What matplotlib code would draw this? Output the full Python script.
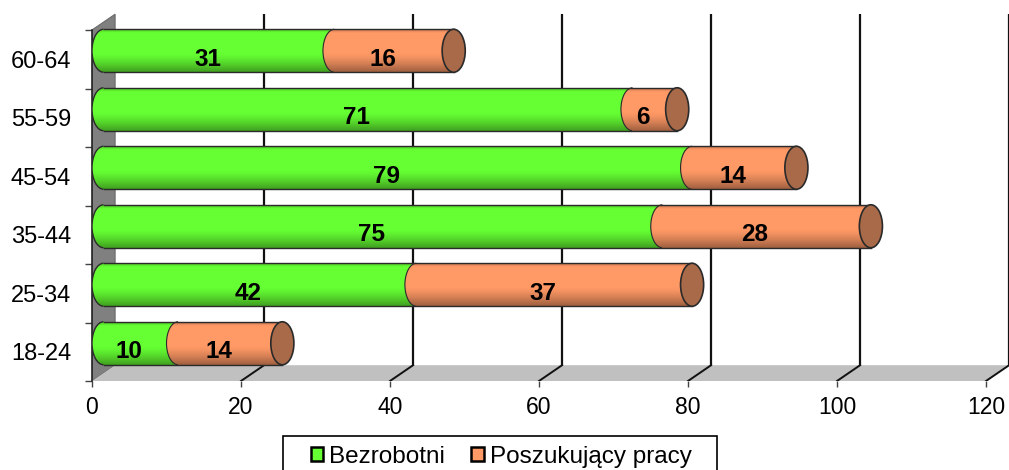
import numpy as np
import matplotlib.pyplot as plt
from matplotlib.patches import Rectangle, Ellipse, Polygon, Arc, Patch

plt.rcParams['font.family'] = ['Liberation Sans', 'DejaVu Sans']

# age groups, bottom to top
groups = ['18-24', '25-34', '35-44', '45-54', '55-59', '60-64']
bezrobotni = [10, 42, 75, 79, 71, 31]
poszukujacy = [14, 37, 28, 14, 6, 16]
x_ticks = [0, 20, 40, 60, 80, 100, 120]

GREEN = '#66FF33'
ORANGE = '#FF9966'
CAP = '#A86A48'
EDGE = '#2a2a2a'
FS = 16.5

# fake 3-D depth of the plot box, in data units
DX = 3.1     # x shift of the back wall
DY = 0.27    # y shift of the back wall
BAR_H = 0.735
CAP_W = 3.1  # width of the end ellipses

fig = plt.figure(figsize=(10.09, 4.70), dpi=100)
W, H = 1009.0, 470.0
x0_px, x120_px, floor_px, top_px = 92.0, 986.0, 381.0, 5.0
ppu_x = (x120_px - x0_px) / 120.0
ppu_y = 58.5
ax = fig.add_axes([x0_px / W, (H - floor_px) / H, (W - x0_px) / W, (floor_px - top_px) / H])
xmax = (W - x0_px) / ppu_x
ymax = -0.5 + (floor_px - top_px) / ppu_y

# back-wall height in data units
wall_top = 5.5 + DY

# shading overlay for the cylinders: dark rim on top, dark band at the bottom
t = np.linspace(0, 1, 64)
alpha = np.where(t < 0.08, 0.22 * (1 - t / 0.08), 0.0)
alpha = alpha + np.clip((t - 0.55) / 0.45, 0, 1) ** 1.4 * 0.38
shade = np.zeros((64, 2, 4))
shade[..., 3] = alpha[:, None]


def shaded(patch, z):
    patch.set_zorder(z)
    ax.add_patch(patch)
    ext = patch.get_path().get_extents(patch.get_patch_transform())
    im = ax.imshow(shade, extent=[ext.x0, ext.x1, ext.y0, ext.y1], aspect='auto',
                   interpolation='bilinear', zorder=z + 0.1, origin='upper')
    im.set_clip_path(patch)


# left wall and floor
ax.add_patch(Polygon([(0, -0.5), (DX, -0.5 + DY), (DX, wall_top), (0, 5.5)],
                     closed=True, fc='#808080', ec='#6a6a6a', lw=0.8, zorder=1))
ax.add_patch(Polygon([(0, -0.5), (120, -0.5), (120 + DX, -0.5 + DY), (DX, -0.5 + DY)],
                     closed=True, fc='#C0C0C0', ec='none', zorder=1))

# gridlines on the back wall and their traces across the floor
for v in x_ticks[1:]:
    ax.plot([v + DX, v + DX], [-0.5 + DY, wall_top], color='#111111', lw=1.6, zorder=2,
            solid_capstyle='butt')
    ax.plot([v, v + DX], [-0.5, -0.5 + DY], color='#111111', lw=1.4, zorder=2)

# stacked cylinders
s = DX / 2
for i, (a, b) in enumerate(zip(bezrobotni, poszukujacy)):
    yc = i + DY / 2 + 0.01
    z = 3 + i
    shaded(Ellipse((s, yc), CAP_W, BAR_H, fc=GREEN, ec='none'), z)
    shaded(Rectangle((s, yc - BAR_H / 2), a, BAR_H, fc=GREEN, ec='none'), z + 0.2)
    ax.add_patch(Arc((s, yc), CAP_W, BAR_H, theta1=90, theta2=270, color=EDGE, lw=1.0,
                     zorder=z + 0.35))
    shaded(Ellipse((s + a, yc), CAP_W, BAR_H, fc=ORANGE, ec='none'), z + 0.4)
    ax.add_patch(Arc((s + a, yc), CAP_W, BAR_H, theta1=90, theta2=270, color=EDGE, lw=0.8,
                     zorder=z + 0.55))
    shaded(Rectangle((s + a, yc - BAR_H / 2), b, BAR_H, fc=ORANGE, ec='none'), z + 0.6)
    ax.plot([s, s + a + b], [yc + BAR_H / 2] * 2, color=EDGE, lw=1.0, zorder=z + 0.75)
    ax.plot([s, s + a + b], [yc - BAR_H / 2] * 2, color=EDGE, lw=1.0, zorder=z + 0.75)
    ax.add_patch(Ellipse((s + a + b, yc), CAP_W, BAR_H, fc=CAP, ec=EDGE, lw=1.2, zorder=z + 0.8))

    ax.text(a / 2, i, str(a), ha='center', va='center', fontsize=17.5, fontweight='bold',
            zorder=20)
    ax.text(a + b / 2, i, str(b), ha='center', va='center', fontsize=17.5, fontweight='bold',
            zorder=20)

ax.set_xlim(0, xmax)
ax.set_ylim(-0.5, ymax)

for side in ['top', 'right', 'bottom']:
    ax.spines[side].set_visible(False)
ax.spines['left'].set_bounds(-0.5, 5.5)
ax.spines['left'].set_color('#222222')
ax.spines['left'].set_linewidth(1.2)
ax.spines['left'].set_zorder(2.5)

ax.set_xticks(x_ticks)
ax.set_xticklabels([str(v) for v in x_ticks])
ax.tick_params(axis='x', direction='out', length=4, width=1, color='#444444',
               labelsize=FS, pad=7)
ax.set_yticks(np.arange(-0.5, 6, 1.0))
ax.set_yticklabels([])
ax.set_yticks(range(len(groups)), minor=True)
ax.set_yticklabels(groups, minor=True)
ax.tick_params(axis='y', which='major', direction='out', length=5, width=1, color='#444444')
ax.tick_params(axis='y', which='minor', length=0, labelsize=17, pad=15)

# legend entries, with a wide box around them that runs off the bottom edge
handles = [Patch(fc=GREEN, ec='black', lw=1.8, label='Bezrobotni'),
           Patch(fc=ORANGE, ec='black', lw=1.8, label='Poszukujący pracy')]
fig.legend(handles=handles, loc='center', bbox_to_anchor=(501 / W, 1 - 457 / H),
           ncol=2, fontsize=17.5, frameon=False,
           handlelength=0.5, handleheight=0.5, handletextpad=0.25, columnspacing=1.1,
           borderpad=0, borderaxespad=0)
fig.add_artist(Rectangle((283 / W, -0.1), (717 - 283) / W, 0.1 + 1 - 436 / H,
                         transform=fig.transFigure, fc='none', ec='black', lw=1.2))

fig.savefig('out.png', dpi=100)
